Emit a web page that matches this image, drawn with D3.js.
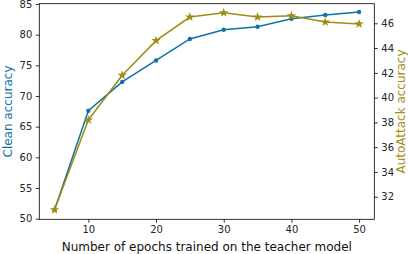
<!DOCTYPE html>
<html>
<head>
<meta charset="utf-8">
<script src="https://cdn.jsdelivr.net/npm/d3@7"></script>
<style>
  body { margin: 0; background: #fff; }
  text { font-family: "DejaVu Sans", sans-serif; }
</style>
</head>
<body>
<div class="chart-wrapper"></div>
<script>
// epochs trained on the teacher
var epochs = [5, 10, 15, 20, 25, 30, 35, 40, 45, 50];
// clean accuracy (left axis)
var clean = [51.4, 67.6, 72.3, 75.8, 79.3, 80.8, 81.3, 82.6, 83.2, 83.7];
// AutoAttack accuracy (right axis)
var autoattack = [30.95, 38.2, 41.8, 44.6, 46.5, 46.85, 46.5, 46.6, 46.1, 45.95];

var xTicks = [10, 20, 30, 40, 50];
var leftTicks = [50, 55, 60, 65, 70, 75, 80, 85];
var rightTicks = [32, 34, 36, 38, 40, 42, 44, 46];

var blue = "#0e72a9";
var olive = "#a08c12";

var width = 408, height = 254;
var margin = {top: 3.7, right: 33.7, bottom: 34.7, left: 39.3};

var svg = d3.select(".chart-wrapper").append("svg")
  .attr("width", width)
  .attr("height", height);

var x = d3.scaleLinear().domain([2.75, 52.25])
  .range([margin.left, width - margin.right]);
var yL = d3.scaleLinear().domain([49.9, 85.05])
  .range([height - margin.bottom, margin.top]);
var yR = d3.scaleLinear().domain([30.18, 47.58])
  .range([height - margin.bottom, margin.top]);

//axes
svg.append("g")
  .attr("transform", "translate(0," + (height - margin.bottom) + ")")
  .call(d3.axisBottom(x).tickValues(xTicks).tickSize(3.5).tickPadding(3.5));
svg.append("g")
  .attr("transform", "translate(" + margin.left + ",0)")
  .call(d3.axisLeft(yL).tickValues(leftTicks).tickSize(3.5).tickPadding(3.5));
svg.append("g")
  .attr("transform", "translate(" + (width - margin.right) + ",0)")
  .call(d3.axisRight(yR).tickValues(rightTicks).tickSize(3.5).tickPadding(3.5));

svg.selectAll(".domain").remove();
svg.selectAll(".tick line").attr("stroke", "#000").attr("stroke-width", 0.8);
svg.selectAll(".tick text").attr("fill", "#262626")
  .style("font-size", "10px").style("font-family", "'DejaVu Sans', sans-serif");

//frame
svg.append("rect")
  .attr("x", margin.left)
  .attr("y", margin.top)
  .attr("width", width - margin.right - margin.left)
  .attr("height", height - margin.bottom - margin.top)
  .attr("fill", "none")
  .attr("stroke", "#000")
  .attr("stroke-width", 0.8);

//lines
var cleanLine = d3.line()
  .x(function(d, i) { return x(epochs[i]); })
  .y(function(d) { return yL(d); });
var aaLine = d3.line()
  .x(function(d, i) { return x(epochs[i]); })
  .y(function(d) { return yR(d); });

svg.append("path")
  .datum(clean)
  .attr("d", cleanLine)
  .attr("fill", "none")
  .attr("stroke", blue)
  .attr("stroke-width", 1.5);

svg.selectAll(".dot")
  .data(clean)
  .enter().append("circle")
  .attr("cx", function(d, i) { return x(epochs[i]); })
  .attr("cy", function(d) { return yL(d); })
  .attr("r", 2.2)
  .attr("fill", blue);

svg.append("path")
  .datum(autoattack)
  .attr("d", aaLine)
  .attr("fill", "none")
  .attr("stroke", olive)
  .attr("stroke-width", 1.5);

var star = d3.symbol().type(d3.symbolStar).size(28);
svg.selectAll(".star")
  .data(autoattack)
  .enter().append("path")
  .attr("d", star)
  .attr("transform", function(d, i) {
    return "translate(" + x(epochs[i]) + "," + yR(d) + ")";
  })
  .attr("fill", olive);

//labels
svg.append("text")
  .attr("x", (margin.left + width - margin.right) / 2)
  .attr("y", 251)
  .attr("text-anchor", "middle")
  .style("font-size", "12px")
  .attr("fill", "#111")
  .text("Number of epochs trained on the teacher model");

svg.append("text")
  .attr("transform", "translate(11.5," + ((margin.top + height - margin.bottom) / 2) + ") rotate(-90)")
  .attr("text-anchor", "middle")
  .style("font-size", "12px")
  .attr("fill", blue)
  .text("Clean accuracy");

svg.append("text")
  .attr("transform", "translate(405," + ((margin.top + height - margin.bottom) / 2) + ") rotate(-90)")
  .attr("text-anchor", "middle")
  .style("font-size", "12px")
  .attr("fill", olive)
  .text("AutoAttack accuracy");
</script>
</body>
</html>
